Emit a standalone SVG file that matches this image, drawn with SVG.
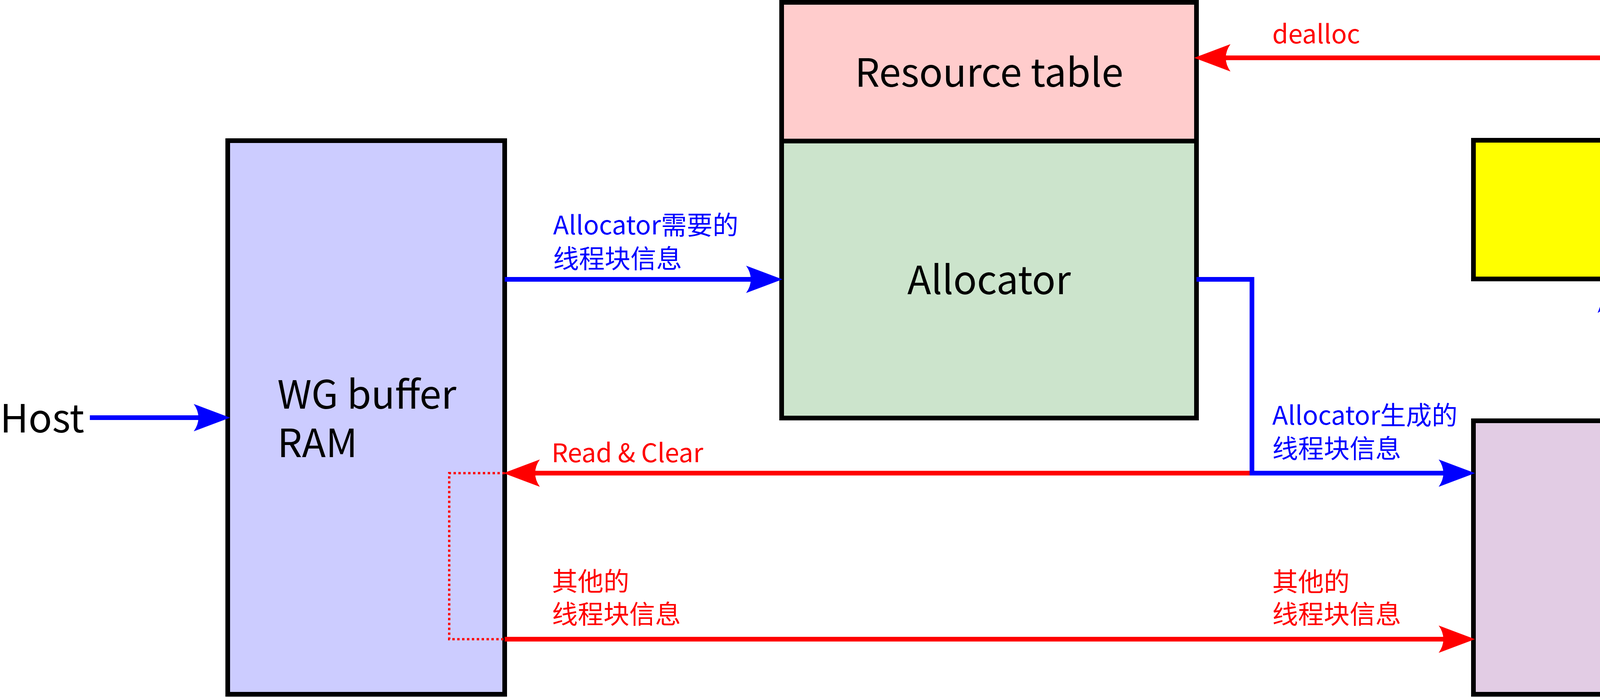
<svg xmlns="http://www.w3.org/2000/svg" width="5783" height="1784" viewBox="0 0 5783 1784">
<style>
.box{stroke:#000;stroke-width:12;}
.main{font-family:"Noto Sans CJK SC","Source Han Sans SC",sans-serif;font-size:100px;fill:#000;}
.lbl{font-family:"Noto Sans CJK SC","Source Han Sans SC",sans-serif;font-size:66px;}
.blue{fill:#0000FF;}
.red{fill:#FF0000;}
.cb{fill:none;stroke:#0000FF;stroke-width:12;stroke-linejoin:miter;marker-end:url(#ab);}
.cr{fill:none;stroke:#FF0000;stroke-width:12;stroke-linejoin:miter;marker-end:url(#ar);}
</style>
<defs>
<marker id="ab" markerUnits="userSpaceOnUse" viewBox="-95 -37 97 74" markerWidth="97" markerHeight="74" refX="-81" refY="0" orient="auto" overflow="visible">
<path d="M0,0 L-93,-35 Q-81,-18 -81,0 Q-81,18 -93,35 Z" fill="#0000FF"/>
</marker>
<marker id="ar" markerUnits="userSpaceOnUse" viewBox="-95 -37 97 74" markerWidth="97" markerHeight="74" refX="-81" refY="0" orient="auto" overflow="visible">
<path d="M0,0 L-93,-35 Q-81,-18 -81,0 Q-81,18 -93,35 Z" fill="#FF0000"/>
</marker>
</defs>
<rect width="5783" height="1784" fill="#FFFFFF"/>

<g id="wg-buffer">
<rect class="box" x="583" y="360" width="709" height="1417" fill="#CCCCFF"/>
<text class="main" x="710" y="1046">WG buffer</text>
<text class="main" x="710" y="1170">RAM</text>
</g>

<g id="resource-table">
<rect class="box" x="2001" y="6" width="1062" height="355" fill="#FFCCCC"/>
<text class="main" x="2532" y="222" text-anchor="middle">Resource table</text>
</g>

<g id="allocator">
<rect class="box" x="2001" y="361" width="1062" height="709" fill="#CCE4CC"/>
<text class="main" x="2532" y="753" text-anchor="middle">Allocator</text>
</g>

<g id="cu0-cu3">
<rect class="box" x="3772" y="359" width="1416" height="355" fill="#FFFF00"/>
<text class="main" x="4481" y="572" text-anchor="middle">CU0~CU3</text>
</g>

<g id="cu-interface">
<rect class="box" x="3772" y="1077" width="1416" height="700" fill="#E2CCE4"/>
<line x1="4481" y1="1069" x2="4481" y2="1777" stroke="#000" stroke-width="6" stroke-dasharray="6 6.5"/>
<text class="main" x="4481" y="1466" text-anchor="middle">CU interface</text>
</g>

<g id="host-in">
<text class="main" x="0" y="1107">Host</text>
</g>

<g id="host-out">
<text class="main" x="5577" y="1458">Host</text>
</g>

<g id="connectors">
<path class="cb" d="M230,1069 H508"/>
<path class="cb" d="M1292,715 H1922"/>
<path class="cr" d="M3205,1211 H1370"/>
<path class="cb" d="M3063,715 H3205 V1211 H3695"/>
<path class="cr" d="M1292,1636 H3695"/>
<path d="M1292,1211 H1150 V1636 H1292" fill="none" stroke="#FF0000" stroke-width="6" stroke-dasharray="6 6.5"/>
<path class="cr" d="M5188,1210 H5330 V148 H3138"/>
<path class="cb" d="M4125,1077 V789"/>
<path class="cb" d="M4834,714 V994"/>
<path class="cb" d="M5188,1423 H5469"/>
</g>

<g id="labels">
<text class="lbl blue" x="1416" y="600">Allocator需要的</text>
<text class="lbl blue" x="1416" y="686">线程块信息</text>
<text class="lbl red" x="1412" y="1183">Read &amp; Clear</text>
<text class="lbl red" x="1413" y="1512">其他的</text>
<text class="lbl red" x="1413" y="1596">线程块信息</text>
<text class="lbl red" x="3257" y="111">dealloc</text>
<text class="lbl blue" x="3257" y="1087">Allocator生成的</text>
<text class="lbl blue" x="3257" y="1172">线程块信息</text>
<text class="lbl red" x="3257" y="1513">其他的</text>
<text class="lbl red" x="3257" y="1596">线程块信息</text>
<text class="lbl blue" x="4161" y="916">WF</text>
<text class="lbl blue" x="4869" y="916">WF done</text>
</g>
</svg>
